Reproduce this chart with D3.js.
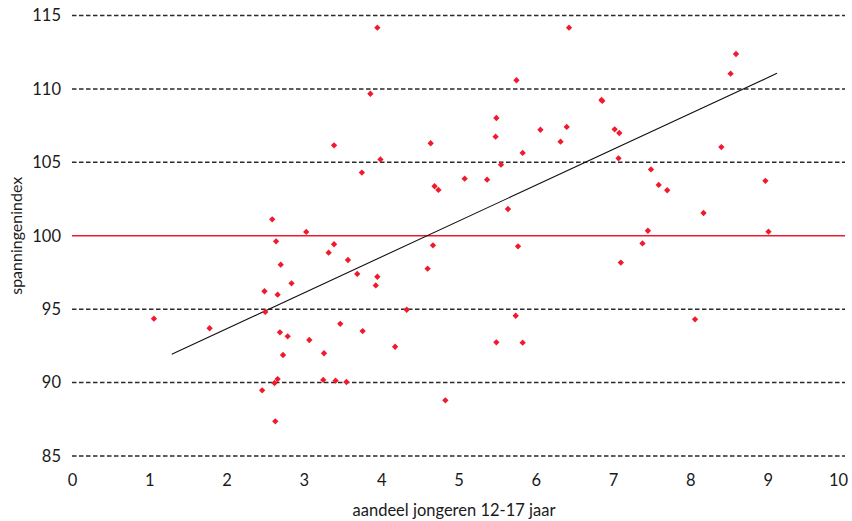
<!DOCTYPE html>
<html>
<head>
<meta charset="utf-8">
<script src="https://cdn.jsdelivr.net/npm/d3@7"></script>
<style>
  html, body { margin: 0; padding: 0; background: #fff; }
  svg { display: block; }
  text { font-family: Lato, "Open Sans", sans-serif; fill: #1a1a1a; }
</style>
</head>
<body>
<svg id="chart" width="852" height="521"></svg>
<script>
// ---- data ----
const xValues = [1.06,1.78,2.46,2.49,2.50,2.59,2.62,2.63,2.64,2.66,2.66,2.69,2.70,2.73,2.79,2.84,3.03,3.07,3.25,3.26,3.32,3.39,3.39,3.41,3.47,3.55,3.57,3.69,3.75,3.76,3.86,3.93,3.95,3.95,3.99,4.18,4.33,4.60,4.64,4.67,4.69,4.74,4.83,5.08,5.37,5.48,5.49,5.49,5.55,5.64,5.74,5.75,5.77,5.83,5.83,6.06,6.32,6.40,6.43,6.85,6.86,7.02,7.07,7.08,7.10,7.38,7.45,7.49,7.59,7.70,8.06,8.17,8.40,8.52,8.59,8.97,9.01];
const yValues = [94.35,93.70,89.47,96.22,94.81,101.12,89.97,87.36,99.62,95.99,90.24,93.42,98.03,91.88,93.15,96.76,100.26,92.90,90.18,92.00,98.85,99.42,106.16,90.13,94.00,90.04,98.35,97.40,104.30,93.51,109.67,96.62,97.21,114.17,105.20,92.44,94.96,97.76,106.30,99.35,103.37,103.12,88.79,103.89,103.82,106.75,108.02,92.74,104.84,101.82,94.55,110.59,99.28,105.64,92.72,107.22,106.41,107.41,114.17,109.25,109.18,107.25,105.27,107.00,98.17,99.48,100.34,104.52,103.46,103.10,94.31,101.55,106.04,111.04,112.38,103.74,100.28];
const trendX = [1.29, 9.12];
const trendY = [91.93, 111.06];
const xTicks = [0,1,2,3,4,5,6,7,8,9,10];
const yTicks = [85,90,95,100,105,110,115];
const referenceValue = 100;
const xTitle = "aandeel jongeren 12-17 jaar";
const yTitle = "spanningenindex";

// ---- layout ----
const svg = d3.select("#chart");
const x = d3.scaleLinear().domain([0, 10]).range([72, 845]);
const y = d3.scaleLinear().domain([85, 115]).range([456, 15.5]);
const red = "#f01a2c";

// gridlines
svg.append("g").selectAll("line")
  .data(yTicks)
  .join("line")
  .attr("x1", x(0)).attr("x2", x(10))
  .attr("y1", d => y(d)).attr("y2", d => y(d))
  .attr("stroke", d => d === referenceValue ? red : "#2a2a2a")
  .attr("stroke-width", d => d === referenceValue ? 1.4 : 1.5)
  .attr("stroke-dasharray", d => d === referenceValue ? null : "4.5,2.5");

// axes
const xAxis = svg.append("g")
  .attr("transform", `translate(0,${y(85)})`)
  .call(d3.axisBottom(x).tickValues(xTicks).tickSize(0).tickPadding(18).tickFormat(d3.format("d")));
xAxis.select(".domain").remove();
xAxis.selectAll("text").style("font-size", "16.5px").attr("fill", "#1a1a1a");
xAxis.selectAll(".tick").filter(d => d === 10).select("text").attr("dx", "-7");

const yAxis = svg.append("g")
  .attr("transform", `translate(${x(0)},0)`)
  .call(d3.axisLeft(y).tickValues(yTicks).tickSize(0).tickPadding(11).tickFormat(d3.format("d")));
yAxis.select(".domain").remove();
yAxis.selectAll("text").style("font-size", "16.5px").attr("fill", "#1a1a1a");

// titles
svg.append("text")
  .attr("x", 454).attr("y", 516)
  .attr("text-anchor", "middle")
  .style("font-size", "16.5px")
  .text(xTitle);

svg.append("text")
  .attr("transform", `translate(22,${y(100)}) rotate(-90)`)
  .attr("text-anchor", "middle")
  .style("font-size", "16px")
  .text(yTitle);

// trend line
svg.append("line")
  .attr("x1", x(trendX[0])).attr("y1", y(trendY[0]))
  .attr("x2", x(trendX[1])).attr("y2", y(trendY[1]))
  .attr("stroke", "#111").attr("stroke-width", 1.1);

// points
const pts = xValues.map((v, i) => ({ x: v, y: yValues[i] }));
svg.append("g").selectAll("path")
  .data(pts)
  .join("path")
  .attr("transform", d => `translate(${x(d.x)},${y(d.y)}) rotate(45)`)
  .attr("d", d3.symbol(d3.symbolSquare, 20))
  .attr("fill", red);
</script>
</body>
</html>
